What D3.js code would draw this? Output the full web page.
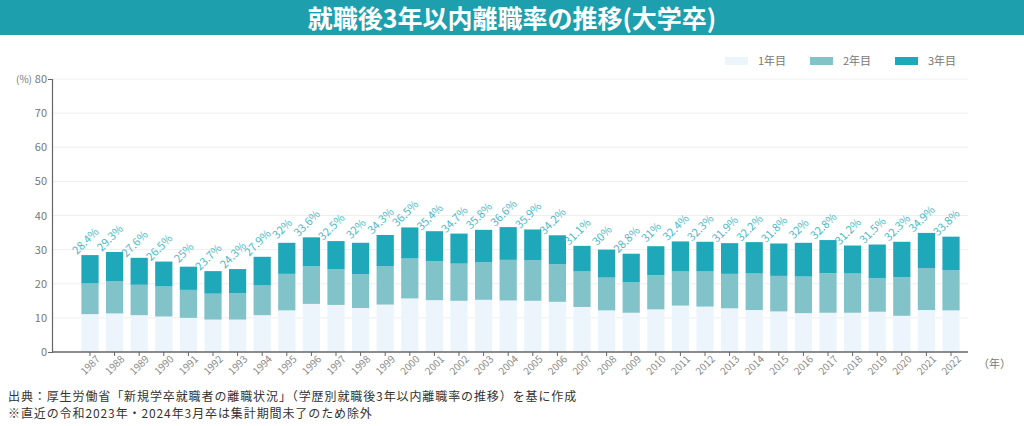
<!DOCTYPE html>
<html lang="ja">
<head>
<meta charset="utf-8">
<script src="https://cdn.jsdelivr.net/npm/d3@7"></script>
<style>
  html, body { margin: 0; padding: 0; background: #fff; }
  body { width: 1024px; height: 426px; overflow: hidden; font-family: "Noto Sans CJK JP", "Noto Sans", sans-serif; }
  .axis text { font-family: "Noto Sans CJK JP", "Noto Sans", sans-serif; }
</style>
</head>
<body>
<div id="chart"></div>
<script>
// 卒業年（大学卒）
const years = ["1987","1988","1989","1990","1991","1992","1993","1994","1995","1996",
  "1997","1998","1999","2000","2001","2002","2003","2004","2005","2006",
  "2007","2008","2009","2010","2011","2012","2013","2014","2015","2016",
  "2017","2018","2019","2020","2021","2022"];

// 1年目・2年目・3年目の離職率 (%)
const year1 = [11.1,11.3,10.8,10.4,10.0,9.5,9.5,10.8,12.2,14.1,
  13.8,12.9,13.9,15.7,15.2,15.0,15.3,15.1,15.0,14.7,
  13.2,12.2,11.5,12.5,13.6,13.3,12.8,12.3,11.9,11.4,
  11.5,11.5,11.8,10.6,12.3,12.2];
const year2 = [9.0,9.5,8.9,8.8,8.2,7.6,7.7,8.7,10.7,11.0,
  10.5,9.9,11.3,11.7,11.4,10.9,11.0,11.9,11.9,11.0,
  10.4,9.6,8.9,10.0,10.0,10.3,10.1,10.7,10.4,10.7,
  11.6,11.5,9.8,11.3,12.3,11.8];
const year3 = [8.3,8.5,7.9,7.3,6.8,6.6,7.1,8.4,9.1,8.5,
  8.2,9.2,9.1,9.1,8.8,8.8,9.5,9.6,9.0,8.5,
  7.5,8.2,8.4,8.5,8.8,8.7,9.0,9.2,9.5,9.9,
  9.7,8.2,9.9,10.4,10.3,9.8];

// 3年以内離職率（ラベル）
const totals = [28.4,29.3,27.6,26.5,25,23.7,24.3,27.9,32,33.6,
  32.5,32,34.3,36.5,35.4,34.7,35.8,36.6,35.9,34.2,
  31.1,30,28.8,31,32.4,32.3,31.9,32.2,31.8,32,
  32.8,31.2,31.5,32.3,34.9,33.8];

const seriesNames = ["1年目", "2年目", "3年目"];
const yTicks = [0, 10, 20, 30, 40, 50, 60, 70, 80];
const notes = [
  "出典：厚生労働省「新規学卒就職者の離職状況」（学歴別就職後3年以内離職率の推移）を基に作成",
  "※直近の令和2023年・2024年3月卒は集計期間未了のため除外"
];

const colors = ["#edf5fc", "#82c3ca", "#1fa8b9"];
const labelColor = "#4cb8c6";

function drawChart() {
  const W = 1024, H = 426;
  const svg = d3.select("#chart").append("svg")
    .attr("width", W)
    .attr("height", H);

  // タイトルバー
  svg.append("rect")
    .attr("x", 0).attr("y", 0)
    .attr("width", W).attr("height", 35)
    .attr("fill", "#1e9fae");
  svg.append("text")
    .attr("x", W / 2).attr("y", 28)
    .attr("text-anchor", "middle")
    .attr("fill", "#fff")
    .style("font-size", "25px")
    .style("font-weight", "bold")
    .text("就職後3年以内離職率の推移(大学卒)");

  const left = 52, right = 968, top = 79, bottom = 352;

  const x = d3.scaleBand()
    .domain(years)
    .range([74, 967])
    .padding(0.3);

  const y = d3.scaleLinear()
    .domain([0, 80])
    .range([bottom, top]);

  // グリッド線
  svg.append("g")
    .selectAll("line")
    .data(yTicks.filter(d => d > 0))
    .enter().append("line")
    .attr("x1", left).attr("x2", right)
    .attr("y1", d => y(d)).attr("y2", d => y(d))
    .attr("stroke", "#eeeeee")
    .attr("stroke-width", 1);

  // 積み上げデータ
  const rows = years.map((yr, i) => ({
    year: yr, "1年目": year1[i], "2年目": year2[i], "3年目": year3[i], total: totals[i]
  }));
  const stacked = d3.stack().keys(seriesNames)(rows);

  svg.append("g")
    .selectAll("g")
    .data(stacked)
    .enter().append("g")
    .attr("fill", (d, i) => colors[i])
    .selectAll("rect")
    .data(d => d)
    .enter().append("rect")
    .attr("x", d => x(d.data.year))
    .attr("width", x.bandwidth())
    .attr("y", d => y(d[1]))
    .attr("height", d => y(d[0]) - y(d[1]));

  // 値ラベル
  svg.append("g")
    .selectAll("text")
    .data(rows)
    .enter().append("text")
    .attr("text-anchor", "middle")
    .attr("transform", d => {
      const cx = x(d.year) + x.bandwidth() / 2 - 4.5;
      const cy = y(d["1年目"] + d["2年目"] + d["3年目"]) - 14;
      return `translate(${cx},${cy}) rotate(-45)`;
    })
    .attr("dy", "0.35em")
    .attr("fill", labelColor)
    .style("font-size", "11px")
    .text(d => d.total + "%");

  // Y軸
  const yAxis = svg.append("g")
    .attr("class", "axis")
    .attr("transform", `translate(${left},0)`)
    .call(d3.axisLeft(y).tickValues(yTicks).tickSizeInner(0).tickSizeOuter(4).tickPadding(5));
  yAxis.select(".domain").attr("stroke", "#666").attr("stroke-width", 1.2);
  yAxis.selectAll("text").attr("fill", "#777").style("font-size", "11px");

  svg.append("text")
    .attr("x", 16).attr("y", y(80) + 4)
    .attr("fill", "#777")
    .style("font-size", "10px")
    .text("(%)");

  // X軸
  const xAxis = svg.append("g")
    .attr("class", "axis")
    .attr("transform", `translate(0,${bottom})`)
    .call(d3.axisBottom(x).tickSizeInner(4).tickSizeOuter(0).tickPadding(4));
  xAxis.select(".domain").remove();
  xAxis.selectAll(".tick line").attr("stroke", "#666");
  xAxis.selectAll("text")
    .attr("fill", "#888")
    .style("font-size", "10px")
    .attr("text-anchor", "end")
    .attr("dx", "0.2em")
    .attr("dy", "0.5em")
    .attr("transform", "rotate(-45)");
  svg.append("line")
    .attr("x1", left).attr("x2", right)
    .attr("y1", bottom).attr("y2", bottom)
    .attr("stroke", "#666")
    .attr("stroke-width", 1.5);

  svg.append("text")
    .attr("x", 978).attr("y", 368)
    .attr("fill", "#777")
    .style("font-size", "11px")
    .text("（年）");

  // 凡例
  const legendX = [725, 810, 895];
  const legend = svg.append("g")
    .selectAll("g")
    .data(seriesNames)
    .enter().append("g")
    .attr("transform", (d, i) => `translate(${legendX[i]},57)`);
  legend.append("rect")
    .attr("width", 23).attr("height", 8)
    .attr("fill", (d, i) => colors[i]);
  legend.append("text")
    .attr("x", 33).attr("y", 8)
    .attr("fill", "#777")
    .style("font-size", "11px")
    .text(d => d);

  // 出典
  svg.append("g")
    .selectAll("text")
    .data(notes)
    .enter().append("text")
    .attr("x", 8)
    .attr("y", (d, i) => 401 + i * 17)
    .attr("fill", "#333")
    .style("font-size", "12px")
    .style("letter-spacing", "0.9px")
    .text(d => d);
}

drawChart();
</script>
</body>
</html>
